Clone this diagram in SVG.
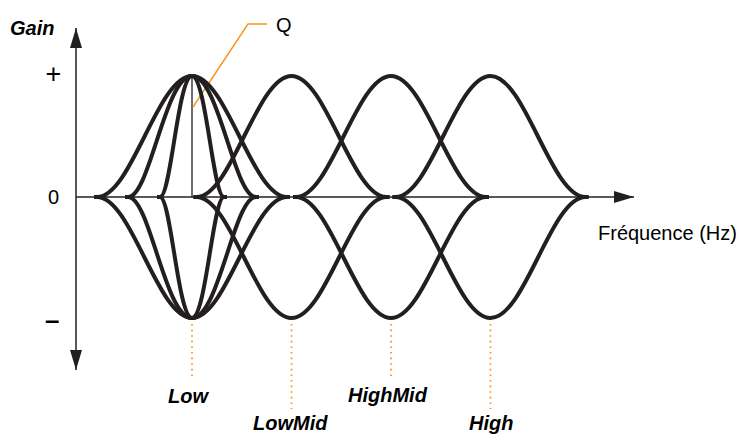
<svg xmlns="http://www.w3.org/2000/svg" width="746" height="435" viewBox="0 0 746 435">
<style>
  .axis { stroke: #231F20; stroke-width: 1.5; fill: none; }
  .curve { stroke: #231F20; stroke-width: 4; fill: none; stroke-linecap: butt; stroke-linejoin: round; }
  .thin { stroke: #231F20; stroke-width: 1.3; fill: none; }
  .lead { stroke: #F7941D; stroke-width: 1.4; fill: none; }
  .dot { stroke: #F7941D; stroke-width: 1.8; fill: none; stroke-dasharray: 1.6 4; }
  .lbl { font-family: "Liberation Sans", Arial, sans-serif; font-size: 20px; fill: #000; }
  .band { font-family: "Liberation Sans", Arial, sans-serif; font-size: 20px; font-weight: bold; font-style: italic; fill: #000; }
</style>
<defs>
  <marker id="arr" viewBox="0 0 20 12" refX="20" refY="6" markerWidth="20" markerHeight="12" markerUnits="userSpaceOnUse" orient="auto">
    <path d="M0,0 L20,6 L0,12 Z" fill="#231F20"/>
  </marker>
</defs>
<rect width="746" height="435" fill="#fff"/>
<g id="axes">
  <line class="axis" x1="76" y1="200" x2="76" y2="28" marker-end="url(#arr)"/>
  <line class="axis" x1="76" y1="200" x2="76" y2="370" marker-end="url(#arr)"/>
  <line class="axis" x1="76" y1="197" x2="634" y2="197" marker-end="url(#arr)"/>
</g>
<g id="axis-labels">
  <text class="band" x="10" y="35">Gain</text>
  <text class="lbl" x="45.5" y="83" style="font-size:27px">+</text>
  <text class="lbl" x="48" y="204">0</text>
  <text class="lbl" x="45" y="329" style="font-weight:bold;font-size:26px">–</text>
  <text class="lbl" x="598" y="240">Fréquence (Hz)</text>
</g>
<g id="connectors">
  <line class="thin" x1="192" y1="197" x2="192" y2="77"/>
  <polyline class="lead" points="193,107 248,24 267,24"/>
  <line class="dot" x1="192" y1="324" x2="192" y2="376"/>
  <line class="dot" x1="291.5" y1="324" x2="291.5" y2="409"/>
  <line class="dot" x1="391" y1="324" x2="391" y2="376"/>
  <line class="dot" x1="490.5" y1="324" x2="490.5" y2="409"/>
</g>
<g id="low">
  <path class="curve" d="M157,197 L160,197 C171,197 178,76 192,76 C206,76 213,197 224,197 L227,197"/>
  <path class="curve" d="M157,197 L160,197 C171,197 178,318 192,318 C206,318 213,197 224,197 L227,197"/>
  <path class="curve" d="M125,197 L128,197 C150,197 165,76 192,76 C219,76 234,197 256,197 L259,197"/>
  <path class="curve" d="M125,197 L128,197 C150,197 165,318 192,318 C219,318 234,197 256,197 L259,197"/>
  <path class="curve" d="M94,197 L97,197 C131.6,197 157.4,76 192,76 C226.6,76 252.4,197 287,197 L290,197"/>
  <path class="curve" d="M94,197 L97,197 C131.6,197 157.4,318 192,318 C226.6,318 252.4,197 287,197 L290,197"/>
  <text class="band" x="168" y="403">Low</text>
</g>
<g id="lowmid">
  <path class="curve" d="M193.5,197 L196.5,197 C231.1,197 256.9,76 291.5,76 C326.1,76 351.9,197 386.5,197 L389.5,197"/>
  <path class="curve" d="M193.5,197 L196.5,197 C231.1,197 256.9,318 291.5,318 C326.1,318 351.9,197 386.5,197 L389.5,197"/>
  <text class="band" x="253" y="430">LowMid</text>
</g>
<g id="highmid">
  <path class="curve" d="M293,197 L296,197 C330.6,197 356.4,76 391,76 C425.6,76 451.4,197 486,197 L489,197"/>
  <path class="curve" d="M293,197 L296,197 C330.6,197 356.4,318 391,318 C425.6,318 451.4,197 486,197 L489,197"/>
  <text class="band" x="348" y="402">HighMid</text>
</g>
<g id="high">
  <path class="curve" d="M392.5,197 L395.5,197 C430.1,197 455.9,76 490.5,76 C525.1,76 550.9,197 585.5,197 L588.5,197"/>
  <path class="curve" d="M392.5,197 L395.5,197 C430.1,197 455.9,318 490.5,318 C525.1,318 550.9,197 585.5,197 L588.5,197"/>
  <text class="band" x="469" y="430">High</text>
</g>
<g id="q-label">
  <text class="lbl" x="276" y="32">Q</text>
</g>
</svg>
